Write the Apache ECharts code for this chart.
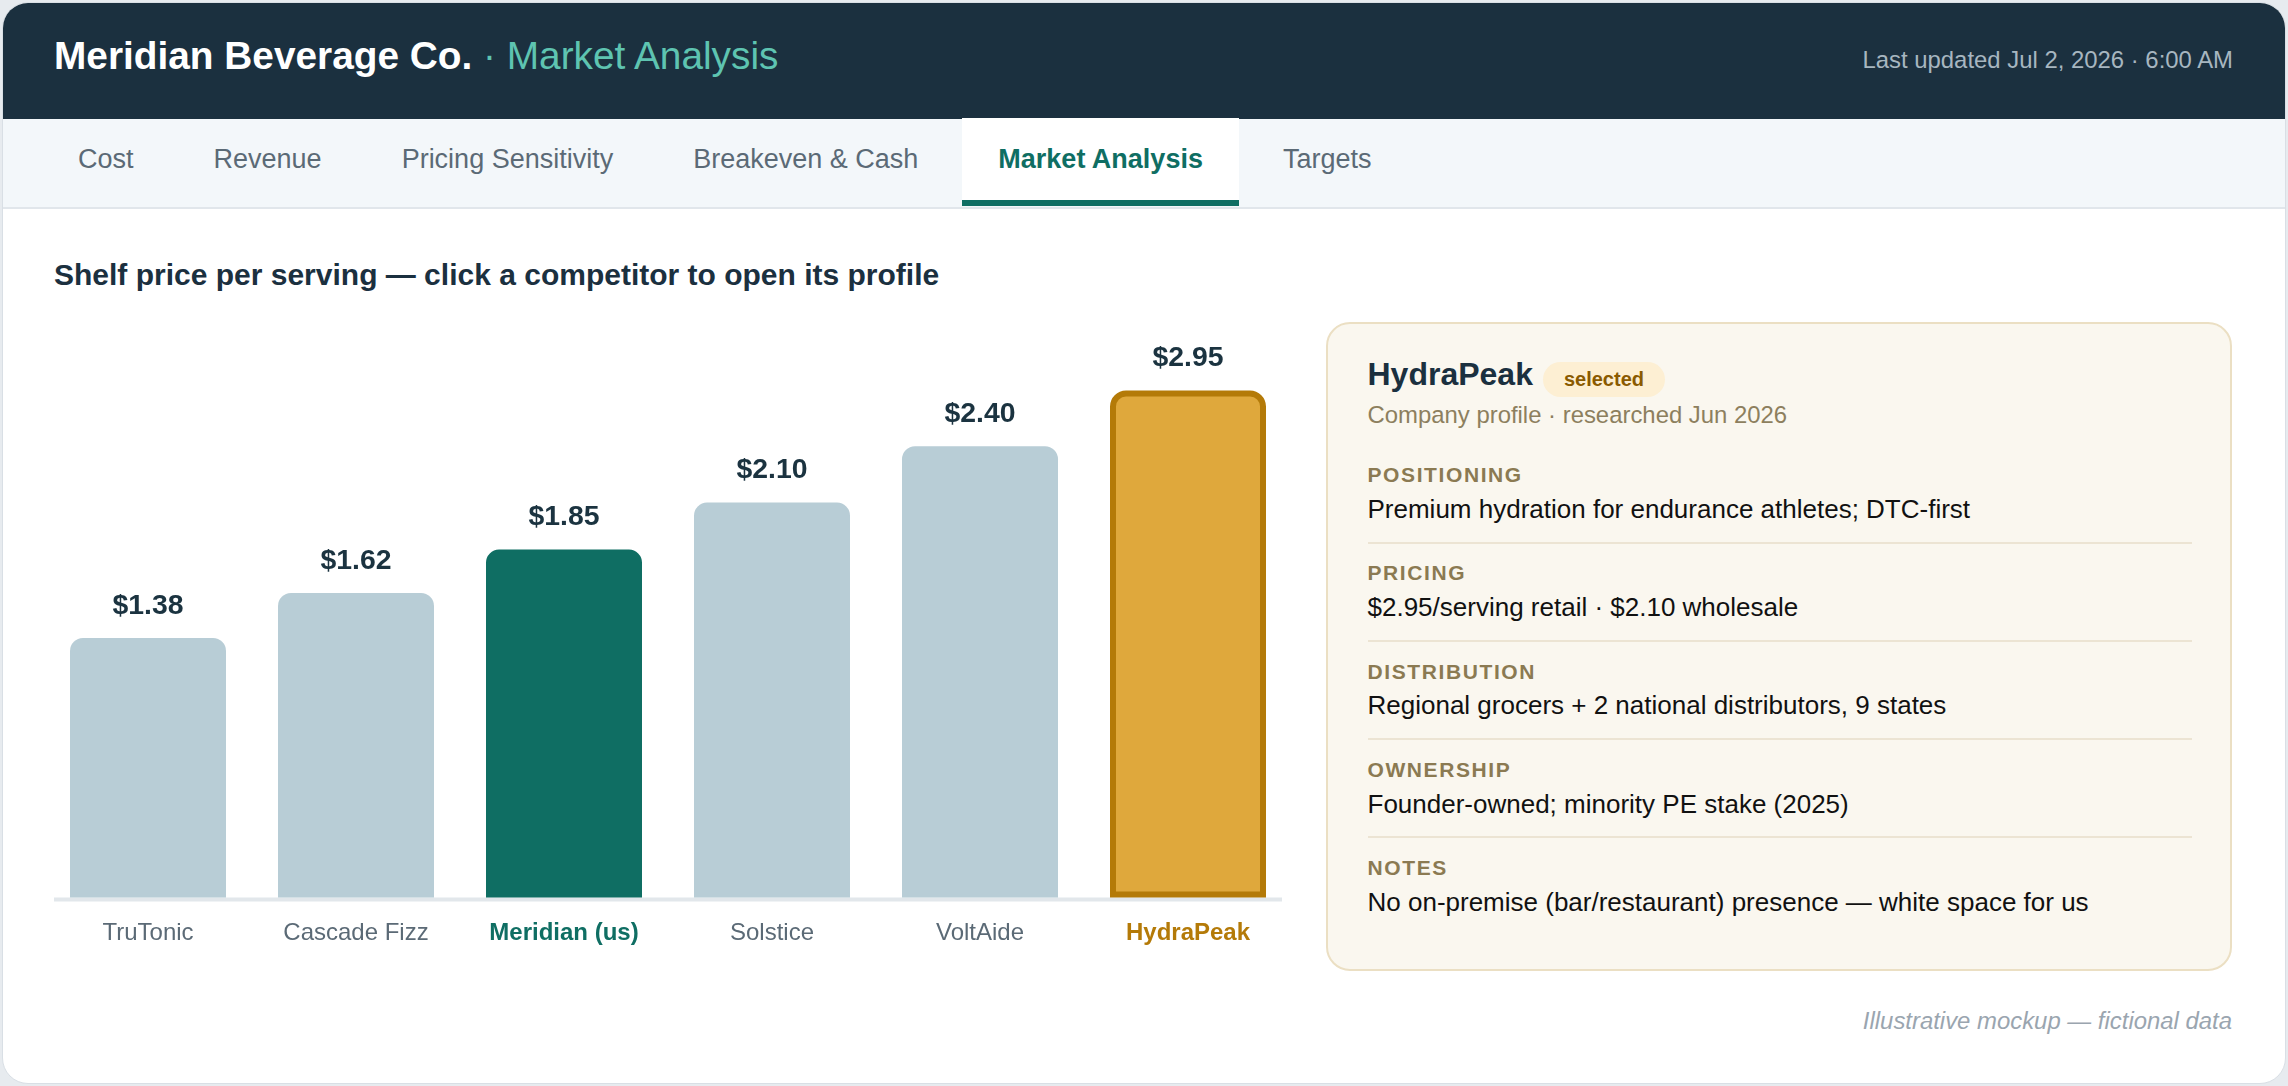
<!DOCTYPE html>
<html>
<head>
<meta charset="utf-8">
<title>Meridian Beverage Co. · Market Analysis</title>
<script src="https://cdn.jsdelivr.net/npm/echarts@6/dist/echarts.min.js"></script>
<style>
	html, body { margin: 0; padding: 0; }
	body {
		width: 2288px; height: 1086px; overflow: hidden; position: relative;
		background: #e7ebef;
		font-family: "Liberation Sans", Arial, sans-serif;
	}
	.card {
		position: absolute; left: 2px; top: 2px; width: 2282px; height: 1080px;
		background: #fff; border: 1px solid #d9dfe5; border-radius: 26px; overflow: hidden;
	}
	.head { position: absolute; left: 0; top: 0; right: 0; height: 116px; background: #1b303f; }
	.tabsbar {
		position: absolute; left: 0; top: 116px; right: 0; height: 88px;
		background: #f3f7fa; border-bottom: 2px solid #e1e6eb;
	}
	.abs { position: absolute; line-height: 1; white-space: nowrap; }
	.title { left: 54px; top: 37.2px; font-size: 38.8px; font-weight: bold; color: #fff; }
	.title span { font-weight: normal; color: #5ec4b1; }
	.updated { right: 55px; top: 48.1px; font-size: 23.9px; color: #a7b6c0; }
	.tabs { position: absolute; left: 42px; top: 118px; height: 88px; display: flex; gap: 8px; }
	.tab {
		box-sizing: border-box; height: 88px; padding: 0 36px; line-height: 82px;
		border-bottom: 6px solid transparent; font-size: 27px; color: #5b6a76;
	}
	.tab.active { background: #fff; border-bottom-color: #0f6e63; color: #0f6e63; font-weight: bold; }
	.subhead { left: 54px; top: 260.3px; font-size: 30px; font-weight: bold; color: #1b303f; }
	#chart { position: absolute; left: 0; top: 300px; width: 1310px; height: 680px; }
	.panel {
		position: absolute; left: 1326px; top: 322px; width: 902px; height: 645px;
		background: #faf7ef; border: 2px solid #ebdfc3; border-radius: 24px;
	}
	.prow { position: absolute; left: 39.5px; top: 33.9px; display: flex; align-items: flex-start; }
	.pname { font-size: 32px; line-height: 32px; font-weight: bold; color: #1b303f; }
	.badge {
		margin-left: 10px; margin-top: 4.1px; height: 35px; line-height: 35px; padding: 0 21px;
		border-radius: 18px; background: #fdefd3; color: #8a5a00; font-size: 20px; font-weight: bold;
	}
	.psub { left: 39.5px; top: 78.8px; font-size: 23.9px; color: #8d7f5e; }
	.flabel { left: 39.5px; font-size: 21px; font-weight: bold; color: #8b7a52; letter-spacing: 1.6px; }
	.fvalue { left: 39.5px; font-size: 26px; color: #111; }
	.fline { position: absolute; left: 40px; width: 824px; height: 2px; background: #ece4d3; }
	.note { right: 56px; top: 1008.8px; font-size: 23.9px; font-style: italic; color: #9aa5af; }
</style>
</head>
<body>
<div class="card">
	<div class="head"></div>
	<div class="tabsbar"></div>
</div>
<div class="abs title">Meridian Beverage Co. <span>· Market Analysis</span></div>
<div class="abs updated">Last updated Jul 2, 2026 · 6:00 AM</div>
<div class="tabs" id="tabs"></div>
<div class="abs subhead">Shelf price per serving — click a competitor to open its profile</div>
<div id="chart"></div>
<div class="panel" id="panel">
	<div class="prow"><div class="pname" id="pname"></div><div class="badge">selected</div></div>
	<div class="abs psub" id="psub"></div>
</div>
<div class="abs note">Illustrative mockup — fictional data</div>

<script>
// tabs
var tabNames = ['Cost', 'Revenue', 'Pricing Sensitivity', 'Breakeven & Cash', 'Market Analysis', 'Targets'];
var activeTab = 'Market Analysis';

// chart data
var competitors = ['TruTonic', 'Cascade Fizz', 'Meridian (us)', 'Solstice', 'VoltAide', 'HydraPeak'];
var shelfPrice = [1.38, 1.62, 1.85, 2.10, 2.40, 2.95];
var ourName = 'Meridian (us)';
var selectedName = 'HydraPeak';

// profile of the selected competitor
var profileSub = 'Company profile · researched Jun 2026';
var profileFields = ['Positioning', 'Pricing', 'Distribution', 'Ownership', 'Notes'];
var profileValues = [
	'Premium hydration for endurance athletes; DTC-first',
	'$2.95/serving retail · $2.10 wholesale',
	'Regional grocers + 2 national distributors, 9 states',
	'Founder-owned; minority PE stake (2025)',
	'No on-premise (bar/restaurant) presence — white space for us'
];

var colGrey = '#b8cdd6', colUs = '#0f6e63', colSel = '#dfa83c', colSelDark = '#b47a08';

$ = function(id) { return document.getElementById(id); };

// tab strip
for (var i = 0; i < tabNames.length; i++) {
	var t = document.createElement('div');
	t.className = 'tab' + (tabNames[i] == activeTab ? ' active' : '');
	t.textContent = tabNames[i];
	$('tabs').appendChild(t);
}

// side panel
$('pname').textContent = selectedName;
$('psub').textContent = profileSub;
var panel = $('panel');
for (var i = 0; i < profileFields.length; i++) {
	var l = document.createElement('div');
	l.className = 'abs flabel';
	l.style.top = (481.7 + 98.3 * i - 17.8 - 324) + 'px';
	l.textContent = profileFields[i].toUpperCase();
	panel.appendChild(l);
	var v = document.createElement('div');
	v.className = 'abs fvalue';
	v.style.top = (517.8 + 98.3 * i - 22 - 324) + 'px';
	v.textContent = profileValues[i];
	panel.appendChild(v);
	if (i < profileFields.length - 1) {
		var d = document.createElement('div');
		d.className = 'fline';
		d.style.top = (541.5 + 98.3 * i - 324) + 'px';
		panel.appendChild(d);
	}
}

// bar chart
var chart = echarts.init($('chart'));

var axisData = competitors.map(function(name) {
	if (name == ourName) return { value: name, textStyle: { color: colUs, fontWeight: 'bold' } };
	if (name == selectedName) return { value: name, textStyle: { color: colSelDark, fontWeight: 'bold' } };
	return { value: name };
});

var barData = shelfPrice.map(function(v, i) {
	var name = competitors[i];
	if (name == ourName) return { value: v, itemStyle: { color: colUs } };
	if (name == selectedName) {
		return { value: v, itemStyle: { color: colSel, borderColor: colSelDark, borderWidth: 6 } };
	}
	return { value: v };
});

var option = {
	animation: false,
	grid: { left: 44, width: 1248, top: 93.5, height: 504.1 },
	xAxis: {
		type: 'category',
		data: axisData,
		axisLine: { show: false },
		axisTick: { show: false },
		axisLabel: {
			margin: 24,
			fontSize: 24,
			color: '#5b6a76',
			fontFamily: 'Liberation Sans, Arial, sans-serif'
		}
	},
	yAxis: {
		type: 'value',
		min: 0,
		max: 2.68, // tallest bar is capped at the top of the plot
		show: false
	},
	graphic: [{
		type: 'rect',
		left: 54,
		top: 597.6,
		shape: { width: 1228, height: 4 },
		style: { fill: '#e2e7eb' },
		z: 0
	}],
	series: [{
		type: 'bar',
		data: barData,
		barCategoryGap: '25%',
		clip: true,
		itemStyle: { color: colGrey, borderRadius: [13, 13, 0, 0] },
		label: {
			show: true,
			position: 'top',
			distance: 18,
			fontSize: 28.4,
			fontWeight: 'bold',
			color: '#1b3340',
			fontFamily: 'Liberation Sans, Arial, sans-serif',
			formatter: function(p) { return '$' + p.value.toFixed(2); }
		},
		emphasis: { disabled: true }
	}]
};
chart.setOption(option);
</script>
</body>
</html>
